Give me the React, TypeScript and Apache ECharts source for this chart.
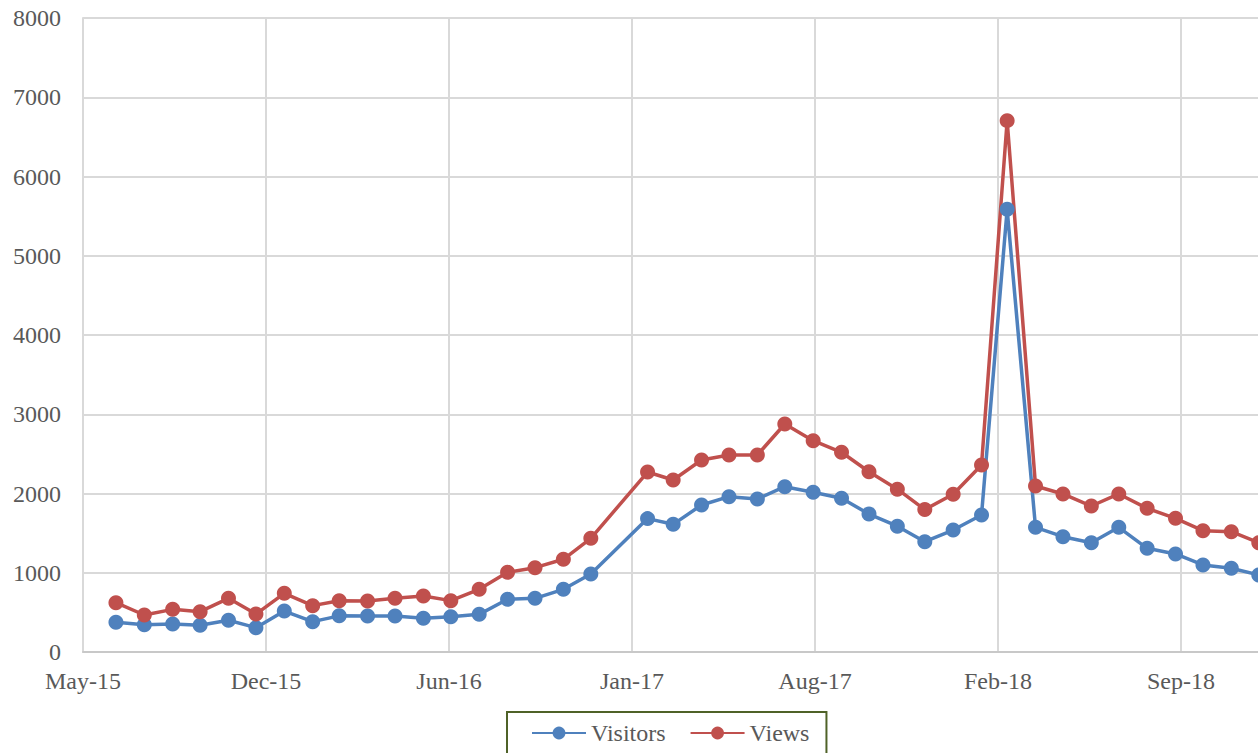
import React, { useEffect, useRef } from "react";
import * as echarts from "echarts";

// Monthly observations (first of month); Jan 2017 is absent in the source
const months = [
  "2015-07", "2015-08", "2015-09", "2015-10", "2015-11", "2015-12",
  "2016-01", "2016-02", "2016-03", "2016-04", "2016-05", "2016-06",
  "2016-07", "2016-08", "2016-09", "2016-10", "2016-11", "2016-12",
  "2017-02", "2017-03", "2017-04", "2017-05", "2017-06", "2017-07",
  "2017-08", "2017-09", "2017-10", "2017-11", "2017-12",
  "2018-01", "2018-02", "2018-03", "2018-04", "2018-05", "2018-06",
  "2018-07", "2018-08", "2018-09", "2018-10", "2018-11", "2018-12",
];

const visitors = [
  375, 345, 353, 337, 400, 307,
  517, 383, 456, 454, 454, 425,
  446, 475, 665, 677, 791, 984,
  1683, 1611, 1855, 1960, 1931, 2086,
  2015, 1939, 1741, 1588, 1392,
  1539, 1729, 5586, 1573, 1455, 1379,
  1573, 1308, 1237, 1098, 1056, 972,
];

const views = [
  622, 467, 538, 509, 677, 479,
  740, 585, 646, 643, 677, 707,
  648, 791, 1005, 1064, 1170, 1434,
  2271, 2170, 2423, 2486, 2486, 2877,
  2666, 2520, 2275, 2055, 1797,
  1990, 2360, 6705, 2095, 1994, 1842,
  1994, 1813, 1687, 1531, 1518, 1379,
];

// Date-axis tick labels, one every 200 days starting from the axis origin
const xTickLabels = ["May-15", "Dec-15", "Jun-16", "Jan-17", "Aug-17", "Feb-18", "Sep-18"];
const xTickStepDays = 200;
const axisOriginUTC = Date.UTC(2015, 4, 26);

const dayOffset = (ym: string) => {
  const [y, m] = ym.split("-").map(Number);
  return (Date.UTC(y, m - 1, 1) - axisOriginUTC) / 86400000;
};

export default function App() {
  const ref = useRef<HTMLDivElement>(null);

  useEffect(() => {
    document.body.style.margin = "0";
    if (!ref.current) return;
    const chart = echarts.init(ref.current, undefined, { renderer: "svg" });
    const font = "'Liberation Serif', 'Times New Roman', serif";
    const textColor = "#595959";
    const xs = months.map(dayOffset);
    const maxDays = 1300;
    const pxPerDay = 183 / xTickStepDays;

    chart.setOption({
      animation: false,
      textStyle: { fontFamily: font },
      grid: {
        left: 83,
        top: 18,
        height: 634,
        width: maxDays * pxPerDay,
        containLabel: false,
      },
      xAxis: {
        type: "value",
        min: 0,
        max: maxDays,
        interval: xTickStepDays,
        axisLine: { show: true, lineStyle: { color: "#c8c8c8", width: 2 } },
        axisTick: { show: false },
        splitLine: { show: true, lineStyle: { color: "#d9d9d9", width: 2 } },
        axisLabel: {
          margin: 17,
          color: textColor,
          fontFamily: font,
          fontSize: 24,
          showMaxLabel: false,
          formatter: (v: number) => {
            if (v % xTickStepDays !== 0) return "";
            return xTickLabels[v / xTickStepDays] ?? "";
          },
        },
      },
      yAxis: {
        type: "value",
        min: 0,
        max: 8000,
        interval: 1000,
        axisLine: { show: true, lineStyle: { color: "#d9d9d9", width: 2 } },
        axisTick: { show: false },
        splitLine: { show: true, lineStyle: { color: "#d9d9d9", width: 2 } },
        axisLabel: {
          margin: 22,
          color: textColor,
          fontFamily: font,
          fontSize: 24,
          formatter: (v: number) => String(v),
        },
      },
      legend: {
        left: 507,
        top: 712,
        orient: "horizontal",
        padding: [9, 17, 30, 24],
        borderColor: "#4f6228",
        borderWidth: 2,
        itemWidth: 54,
        itemHeight: 16,
        itemGap: 24,
        textStyle: { color: textColor, fontFamily: font, fontSize: 24 },
        data: ["Visitors", "Views"],
      },
      series: [
        {
          name: "Visitors",
          type: "line",
          data: xs.map((x, i) => [x, visitors[i]]),
          symbol: "circle",
          symbolSize: 15,
          showSymbol: true,
          lineStyle: { color: "#4f81bd", width: 3.5 },
          itemStyle: { color: "#4f81bd" },
        },
        {
          name: "Views",
          type: "line",
          data: xs.map((x, i) => [x, views[i]]),
          symbol: "circle",
          symbolSize: 15,
          showSymbol: true,
          lineStyle: { color: "#c0504d", width: 3.5 },
          itemStyle: { color: "#c0504d" },
        },
      ],
    });

    return () => chart.dispose();
  }, []);

  return (
    <div style={{ width: 1258, height: 753, overflow: "hidden", position: "relative" }}>
      <div ref={ref} style={{ width: 1420, height: 753 }} />
    </div>
  );
}
